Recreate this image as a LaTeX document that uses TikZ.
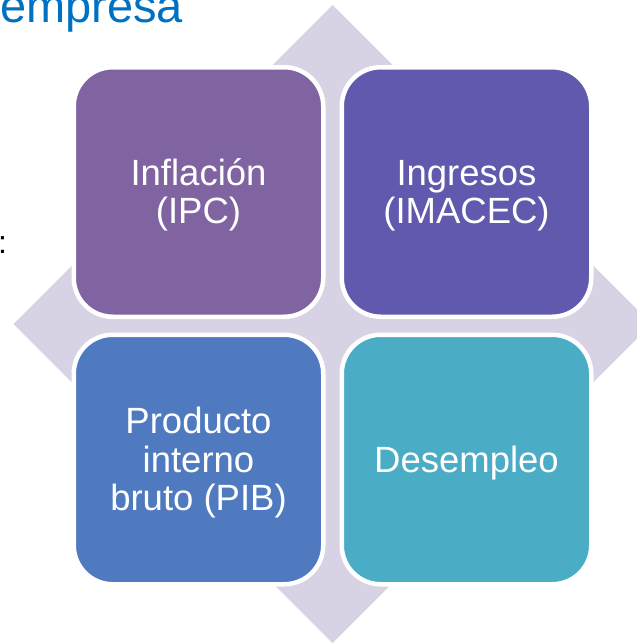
\documentclass[tikz,border=0pt]{standalone}
\usepackage{fontspec}
\setmainfont{Liberation Sans}
\definecolor{diam}{HTML}{D7D3E4}
\definecolor{ctl}{HTML}{8064A2}
\definecolor{ctr}{HTML}{6059AE}
\definecolor{cbl}{HTML}{4F7AC0}
\definecolor{cbr}{HTML}{4BACC6}
\definecolor{titleblue}{HTML}{0070C0}
\newcommand{\boxtext}[1]{\raisebox{-5pt}[\height][\depth]{\begin{tabular}{@{}c@{}}#1\end{tabular}}}
\begin{document}
\begin{tikzpicture}[x=1pt,y=-1pt,
  box/.style={draw=white, line width=4.5pt, rounded corners=39pt,
    minimum width=249.5pt, minimum height=249.5pt, text=white,
    font=\fontsize{36.5}{38.5}\selectfont, inner sep=0pt}]
\useasboundingbox (0,0) rectangle (637,643);
\clip (0,0) rectangle (637,643);
\fill[diam] (332.5,5) -- (651.5,324) -- (332.5,643) -- (13.5,324) -- cycle;
\node[box, fill=ctl] (tl) at (198.5,192) {\boxtext{Inflación\\(IPC)}};
\node[box, fill=ctr] (tr) at (466.5,192) {\boxtext{Ingresos\\(IMACEC)}};
\node[box, fill=cbl] (bl) at (198.5,459.5) {\boxtext{Producto\\interno\\bruto (PIB)}};
\node[box, fill=cbr] (br) at (466.5,459.5) {\boxtext{Desempleo}};
\node[anchor=base west, text=titleblue, font=\fontsize{47}{50}\selectfont, inner sep=0pt] (title) at (0,22) {empresa};
\node[anchor=base west, font=\fontsize{32}{34}\selectfont, inner sep=0pt] (colon) at (-2,253) {:};
\end{tikzpicture}
\end{document}
